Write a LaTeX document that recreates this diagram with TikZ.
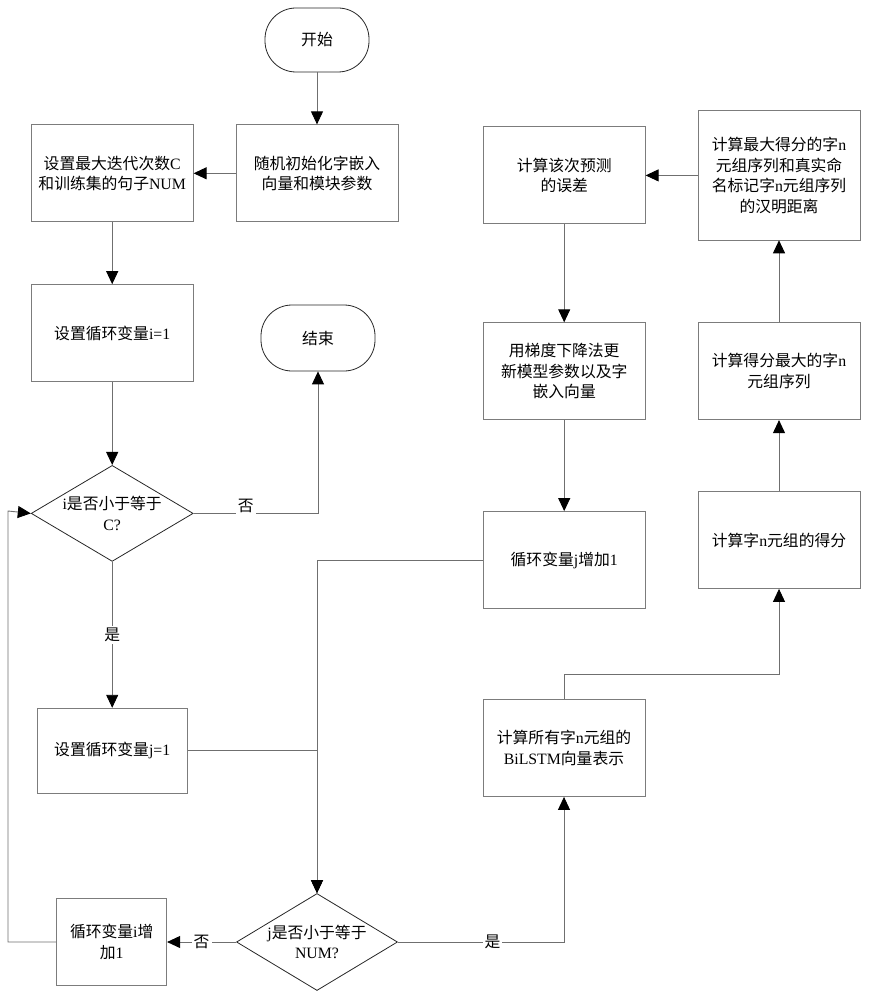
\documentclass[tikz,border=0pt]{standalone}
\usepackage{fontspec}
\setmainfont{Liberation Serif}
\newfontfamily\cjk{Noto Sans CJK SC}
\usetikzlibrary{arrows.meta, positioning, shapes.geometric}
\definecolor{linegray}{HTML}{6F6F6F}
\definecolor{boxgray}{HTML}{7C7C7C}
\newcommand{\eng}[1]{{\rmfamily #1}}

\begin{document}
\begin{tikzpicture}[
x=1pt, y=-1pt,
font=\cjk\fontsize{15.8}{20.5}\selectfont,
 kasse/.style = {rectangle, draw=boxgray, line width=0.8pt, align=center,
                 minimum width=162pt, minimum height=97pt, inner sep=2pt},
  term/.style = {rectangle, rounded corners=31pt, draw=black!85, line width=0.8pt,
                 minimum width=104pt, minimum height=64pt},
  valg/.style = {diamond, draw=black!85, line width=0.8pt,
                 minimum width=162pt, minimum height=96pt, inner sep=0pt},
   pil/.style = {draw=linegray, line width=0.9pt,
                 -{Triangle[width=12pt,length=13pt,color=black]}},
  svar/.style = {fill=white, inner sep=2pt}
                    ]
\useasboundingbox (0,0) rectangle (868,1000);
%nodes
\node[term] (start) at (317,40) {开始};
\node[kasse, below=52pt of start] (rand) {随机初始化字嵌入\\向量和模块参数};
\node[kasse, left=42pt of rand] (maxit) {设置最大迭代次数\eng{C}\\和训练集的句子\eng{NUM}};
\node[kasse, below=62pt of maxit] (seti) {设置循环变量\eng{i=1}};
\node[valg, below=83pt of seti,
      label={[align=center]center:\eng{i}是否小于等于\\\eng{C?}}] (di) {};
\node[term, minimum width=114pt, minimum height=66pt] (finish) at (318,338) {结束};
\node[kasse, minimum width=150pt, minimum height=85pt, below=146pt of di] (setj) {设置循环变量\eng{j=1}};

\node[valg, minimum width=161pt, minimum height=97pt,
      label={[align=center]center:\eng{j}是否小于等于\\\eng{NUM?}}] (dj) at (317,942) {};
\node[kasse, minimum width=110pt, minimum height=87pt, left=69pt of dj] (iinc) {循环变量\eng{i}增\\加\eng{1}};
\coordinate (back) at (8,511);

\node[kasse] (bilstm) at (564,748) {计算所有字\eng{n}元组的\\\eng{BiLSTM}向量表示};
\node[kasse] (score) at (779,540) {计算字\eng{n}元组的得分};
\node[kasse, above=71pt of score] (best) {计算得分最大的字\eng{n}\\元组序列};
\node[kasse, minimum height=129pt, above=82pt of best] (hamming) {计算最大得分的字\eng{n}\\元组序列和真实命\\名标记字\eng{n}元组序列\\的汉明距离};
\node[kasse, left=52pt of hamming] (err) {计算该次预测\\的误差};
\node[kasse, below=98pt of err] (grad) {用梯度下降法更\\新模型参数以及字\\嵌入向量};
\node[kasse, below=91pt of grad] (jinc) {循环变量\eng{j}增加\eng{1}};

% edges
\draw[pil] (start) -- (rand);
\draw[pil] (rand) -- (maxit);
\draw[pil] (maxit) -- (seti);
\draw[pil] (seti) -- (di);
\draw[pil] (di.east) -| node[svar, pos=0.21, yshift=7pt] {否} (finish.south);
\draw[pil] (di) -- node[svar] {是} (setj);
\draw[pil] (setj.east) -| (dj.north);
\draw[pil] (jinc.west) -| (dj.north);
\draw[pil] (dj) -- node[svar] {否} (iinc);
\draw[pil] (iinc.west) -- (iinc.west -| back) -- (back) -- (di.west);
\draw[pil] (dj.east) -| node[svar, pos=0.285] {是} (bilstm.south);
\draw[pil] (bilstm.north) -- ++(0,-25) -| (score.south);
\draw[pil] (score) -- (best);
\draw[pil] (best) -- (hamming);
\draw[pil] (hamming) -- (err);
\draw[pil] (err) -- (grad);
\draw[pil] (grad) -- (jinc);
    \end{tikzpicture}
\end{document}
